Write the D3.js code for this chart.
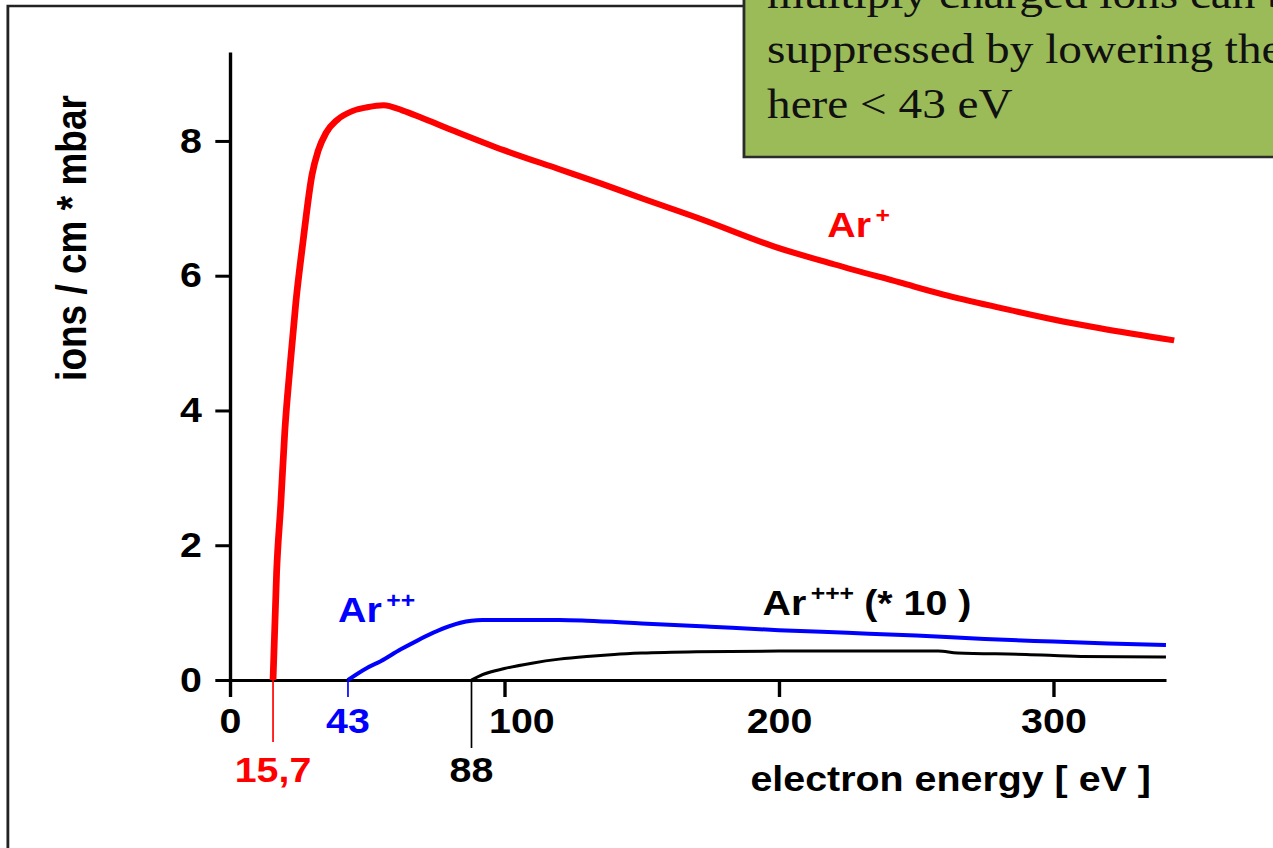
<!DOCTYPE html>
<html>
<head>
<meta charset="utf-8">
<script src="https://cdn.jsdelivr.net/npm/d3@7"></script>
<style>
  html, body { margin: 0; padding: 0; background: #fff; overflow: hidden; }
  text { font-family: 'Liberation Sans', Arial, sans-serif; font-weight: bold; }
</style>
</head>
<body>
<div id="chart"></div>
<script>
// Ar+ ionisation curve
var arPlusEnergy = [15.7, 17, 18.5, 20, 22, 24, 26.6, 29.9, 32.1, 35, 39, 45, 50, 56, 63, 70, 81, 100, 120, 135, 150, 171, 200, 220, 244, 260, 281, 300, 317, 344]
var arPlusIons   = [0, 1.6, 2.6, 3.7, 4.7, 5.6, 6.5, 7.5, 7.85, 8.12, 8.31, 8.45, 8.5, 8.53, 8.45, 8.34, 8.16, 7.86, 7.58, 7.37, 7.15, 6.85, 6.41, 6.17, 5.9, 5.72, 5.52, 5.35, 5.22, 5.04]

// Ar++ curve
var ar2Energy = [43, 50, 55, 62, 68, 74, 80, 84, 88, 92, 100, 120, 130, 150, 175, 200, 225, 250, 275, 300, 320, 341]
var ar2Ions   = [0, 0.18, 0.28, 0.45, 0.58, 0.7, 0.8, 0.85, 0.88, 0.89, 0.89, 0.89, 0.88, 0.84, 0.79, 0.74, 0.7, 0.66, 0.61, 0.57, 0.54, 0.52]

// Ar+++ curve (* 10)
var ar3Energy = [88, 92, 100, 110, 120, 130, 140, 150, 170, 200, 230, 258, 265, 290, 310, 341]
var ar3Ions   = [0, 0.08, 0.17, 0.25, 0.31, 0.35, 0.38, 0.4, 0.42, 0.43, 0.43, 0.43, 0.4, 0.38, 0.35, 0.34]

var xTicks = [0, 100, 200, 300]
var yTicks = [0, 2, 4, 6, 8]
var thresholds = [15.7, 43, 88]
var thresholdLabels = ['15,7', '43', '88']
var noteLines = ['multiply charged ions can be', 'suppressed by lowering the', 'here < 43 eV']

// slide was 4:3, shown stretched to 3:2
var width = 1273
var height = 848
var vbWidth = width / 1.125

var svg = d3.select('#chart')
	.append('svg')
	.attr('width', width)
	.attr('height', height)
	.attr('viewBox', [0, 0, vbWidth, height])
	.attr('preserveAspectRatio', 'none')

var x = d3.scaleLinear()
	.domain([0, 341])
	.range([204.4, 1036.4])

var y = d3.scaleLinear()
	.domain([0, 9.32])
	.range([680, 52])

// outer frame
svg.append('rect')
	.attr('x', 7)
	.attr('y', 6)
	.attr('width', 1300)
	.attr('height', 900)
	.style('fill', 'none')
	.style('stroke', '#222')
	.style('stroke-width', 2.5)

// axes
var xAxis = svg.append('g')
	.attr('transform', 'translate(0,' + y(0) + ')')
	.call(d3.axisBottom(x).tickValues(xTicks).tickSize(17).tickPadding(11).tickSizeOuter(0))

var yAxis = svg.append('g')
	.attr('transform', 'translate(' + x(0) + ',0)')
	.call(d3.axisLeft(y).tickValues(yTicks).tickSize(13).tickPadding(12).tickSizeOuter(0))

svg.selectAll('.domain, .tick line')
	.style('stroke', '#000')
	.style('stroke-width', 3)

svg.selectAll('.tick text')
	.attr('font-family', null)
	.style('font-size', '35px')
	.style('fill', '#000')

xAxis.selectAll('.tick text')
	.attr('dx', d => d === 100 ? 15 : 0)

// threshold markers
var markerColors = ['#ff0000', '#0000ff', '#000']
var markerLen = [62, 17, 68]
var markerLabelY = [782, 733, 782]

thresholds.forEach(function (t, i) {
	svg.append('line')
		.attr('x1', x(t))
		.attr('x2', x(t))
		.attr('y1', y(0))
		.attr('y2', y(0) + markerLen[i])
		.style('stroke', markerColors[i])
		.style('stroke-width', 1.5)

	svg.append('text')
		.attr('x', x(t))
		.attr('y', markerLabelY[i])
		.attr('text-anchor', 'middle')
		.style('font-size', '35px')
		.style('fill', markerColors[i])
		.text(thresholdLabels[i])
})

// curves
var line = d3.line()
	.x(d => x(d[0]))
	.y(d => y(d[1]))
	.curve(d3.curveMonotoneX)

function drawCurve(energy, ions, color, w) {
	svg.append('path')
		.datum(d3.zip(energy, ions))
		.attr('d', line)
		.style('fill', 'none')
		.style('stroke', color)
		.style('stroke-width', w)
		.style('stroke-linejoin', 'round')
}

drawCurve(ar3Energy, ar3Ions, '#000', 3)
drawCurve(ar2Energy, ar2Ions, '#0000ff', 4)
drawCurve(arPlusEnergy, arPlusIons, '#ff0000', 6)

// curve labels
function ionLabel(e, v, sup, color, extra) {
	var t = svg.append('text')
		.attr('x', x(e))
		.attr('y', y(v))
		.style('font-size', '35px')
		.style('fill', color)
	t.append('tspan').text('Ar')
	t.append('tspan')
		.attr('dx', 4)
		.attr('dy', -14)
		.style('font-size', '22px')
		.text(sup)
	if (extra) {
		t.append('tspan')
			.attr('dx', 9)
			.attr('dy', 14)
			.text(extra)
	}
}

ionLabel(217.6, 6.57, '+', '#ff0000')
ionLabel(39.4, 0.86, '++', '#0000ff')
ionLabel(194, 0.96, '+++', '#000', '(* 10 )')

// axis titles
svg.append('text')
	.attr('transform', 'translate(76,238) rotate(-90)')
	.attr('text-anchor', 'middle')
	.style('font-size', '37px')
	.text('ions / cm * mbar')

svg.append('text')
	.attr('x', 1023)
	.attr('y', 791)
	.attr('text-anchor', 'end')
	.style('font-size', '35px')
	.text('electron energy [ eV ]')

// note box
svg.append('rect')
	.attr('x', 661.3)
	.attr('y', -10)
	.attr('width', 600)
	.attr('height', 167)
	.style('fill', '#9bbb59')
	.style('stroke', '#2b2b2b')
	.style('stroke-width', 2.5)

svg.append('g')
	.selectAll('text')
	.data(noteLines)
	.enter()
	.append('text')
	.attr('x', 681.8)
	.attr('y', (d, i) => 8 + i * 55)
	.style('font-family', "'Liberation Serif', 'Times New Roman', serif")
	.style('font-weight', 'normal')
	.style('font-size', '42px')
	.style('fill', '#111')
	.text(d => d)
</script>
</body>
</html>
